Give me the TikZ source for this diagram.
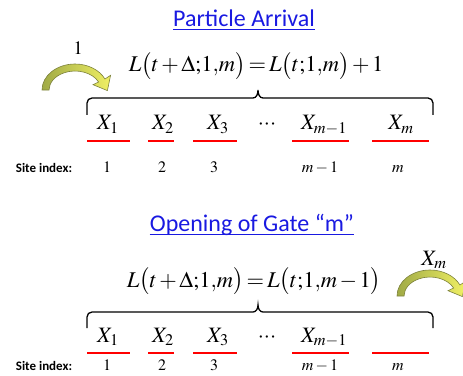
\documentclass[tikz,border=0pt]{standalone}
\usepackage{mathptmx}
\usepackage{fontspec}
\setmainfont{Liberation Serif}
\newfontfamily\calibri{Carlito}
\usetikzlibrary{positioning}
\definecolor{titleblue}{RGB}{25,25,225}
\definecolor{arrowedge}{RGB}{125,130,60}
\definecolor{arrowdark}{RGB}{160,170,70}
\definecolor{arrowlight}{RGB}{240,240,100}
\newcommand{\tightmath}{\thinmuskip=0mu\medmuskip=2mu\thickmuskip=2.5mu}
\tikzset{
  title/.style={font=\calibri\fontsize{24}{28}\selectfont,text=titleblue,inner sep=0pt,anchor=base},
  titleline/.style={titleblue,line width=1pt},
  eqn/.style={font=\fontsize{22.5}{27}\selectfont\tightmath,inner sep=0pt,anchor=base},
  cell/.style={font=\fontsize{22}{26}\selectfont\tightmath,inner sep=0pt,anchor=base},
  count/.style={font=\fontsize{19}{22}\selectfont,inner sep=0pt,anchor=base},
  site/.style={font=\fontsize{16}{19}\selectfont,inner sep=0pt,anchor=base},
  sitelabel/.style={font=\calibri\bfseries\fontsize{13}{15}\selectfont,inner sep=0pt,anchor=base},
  slot/.style={red,line width=1.5pt},
  brace/.style={line width=1.3pt},
  bentarrow/.pic={
    \draw[arrowedge,line width=0.6pt,left color=arrowdark,right color=arrowlight]
      (-33,0) arc[start angle=180,end angle=25,x radius=33,y radius=26]
      -- (35.6,14.7) -- (32.4,-0.6) -- (18,5.3)
      -- (23.6,8.0) arc[start angle=25,end angle=180,x radius=26,y radius=19] -- cycle;
  }
}

\begin{document}
\begin{tikzpicture}[x=1pt,y=1pt]
\useasboundingbox (0,0) rectangle (463,375);
% particle arrival
\node[title] (arrival) at (244,348) {Particle Arrival};
\draw[titleline] ([yshift=-3pt]arrival.base west) -- ([yshift=-3pt]arrival.base east);
\node[eqn] (eqA) at (256,303) {$L\bigl(t+\Delta;1,m\bigr)=L\bigl(t;1,m\bigr)+1$};
\pic at (75,285) {bentarrow};
\node[count] (one) at (78,320) {$1$};
\draw[brace] (87,260) -- (87,272) to[out=90,in=180] (92,277) -- (253,277)
  to[out=0,in=-90] (258,285) to[out=-90,in=180] (263,277) -- (428,277)
  to[out=0,in=90] (433,272) -- (433,260);
\node[cell] (a1) at (108,245) {$X_1$};
\node[cell] (a2) at (163,245) {$X_2$};
\node[cell] (a3) at (218,245) {$X_3$};
\node[cell] (adots) at (267,245) {$\cdots$};
\node[cell] (am1) at (324,245) {$X_{m-1}$};
\node[cell] (am) at (401,245) {$X_m$};
\foreach \l/\r in {87/130,148/174,193/237,292/349,372/429}
  \draw[slot] (\l,234) -- (\r,234);
\node[sitelabel] (siteA) at (44,202) {Site index:};
\node[site] (sa1) at (107,202) {$1$};
\node[site] (sa2) at (162,202) {$2$};
\node[site] (sa3) at (214,202) {$3$};
\node[site] (sam1) at (320,202) {$m-1$};
\node[site] (sam) at (398,202) {$m$};
% opening of gate m
\node[title] (gate) at (252,143) {Opening of Gate “m”};
\draw[titleline] ([yshift=-3pt]gate.base west) -- ([yshift=-3pt]gate.base east);
\node[eqn] (eqB) at (254,88) {$L\bigl(t+\Delta;1,m\bigr)=L\bigl(t;1,m-1\bigr)$};
\pic at (430,79) {bentarrow};
\node[cell] (leave) at (434,110) {$X_m$};
\draw[brace] (87,47) -- (87,58) to[out=90,in=180] (92,63) -- (253,63)
  to[out=0,in=-90] (258,70) to[out=-90,in=180] (263,63) -- (428,63)
  to[out=0,in=90] (433,58) -- (433,47);
\node[cell] (b1) at (108,33) {$X_1$};
\node[cell] (b2) at (163,33) {$X_2$};
\node[cell] (b3) at (218,33) {$X_3$};
\node[cell] (bdots) at (267,33) {$\cdots$};
\node[cell] (bm1) at (324,33) {$X_{m-1}$};
\foreach \l/\r in {87/130,148/174,193/237,292/349,372/429}
  \draw[slot] (\l,22) -- (\r,22);
\node[sitelabel] (siteB) at (44,5) {Site index:};
\node[site] (sb1) at (107,5) {$1$};
\node[site] (sb2) at (162,5) {$2$};
\node[site] (sb3) at (214,5) {$3$};
\node[site] (sbm1) at (320,5) {$m-1$};
\node[site] (sbm) at (398,5) {$m$};
\end{tikzpicture}
\end{document}
